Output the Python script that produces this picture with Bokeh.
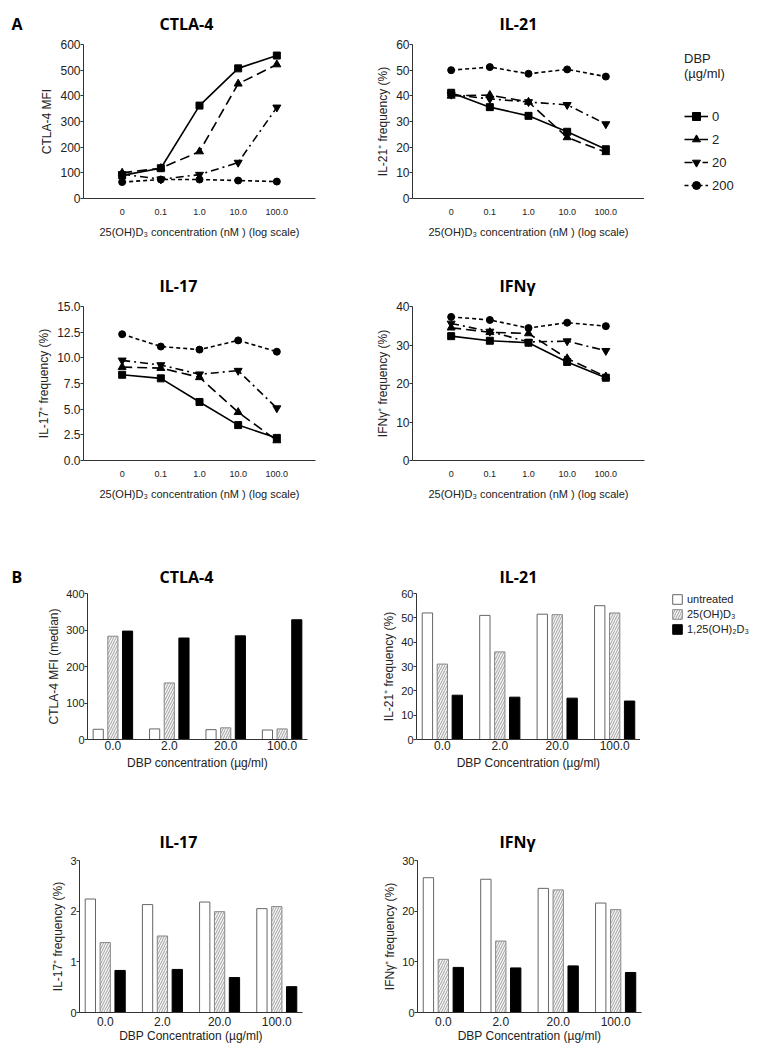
from bokeh.plotting import figure
from bokeh.layouts import column, row
from bokeh.models import (FactorRange, Range1d, FixedTicker, Legend, LegendItem,
                          ColumnDataSource, PrintfTickFormatter, Title)
from bokeh.transform import dodge
from bokeh.embed import file_html
from bokeh.resources import INLINE

# ---------------- Panel A data ----------------
conc = ["0", "0.1", "1.0", "10.0", "100.0"]
dbp_levels = ["0", "2", "20", "200"]

ctla4_a_dbp0 = [90, 118, 362, 507, 557]
ctla4_a_dbp2 = [100, 118, 183, 447, 522]
ctla4_a_dbp20 = [95, 75, 93, 140, 355]
ctla4_a_dbp200 = [64, 74, 74, 70, 66]

il21_a_dbp0 = [41.2, 35.6, 32.2, 26.0, 19.2]
il21_a_dbp2 = [40.0, 40.3, 37.6, 23.8, 18.0]
il21_a_dbp20 = [40.5, 38.8, 37.6, 36.5, 29.0]
il21_a_dbp200 = [50.0, 51.2, 48.6, 50.3, 47.5]

il17_a_dbp0 = [8.35, 8.0, 5.7, 3.45, 2.2]
il17_a_dbp2 = [9.1, 9.0, 8.1, 4.7, 1.95]
il17_a_dbp20 = [9.75, 9.3, 8.4, 8.75, 5.1]
il17_a_dbp200 = [12.3, 11.1, 10.8, 11.7, 10.6]

ifng_a_dbp0 = [32.3, 31.1, 30.6, 25.6, 21.5]
ifng_a_dbp2 = [34.5, 33.3, 33.0, 26.5, 21.8]
ifng_a_dbp20 = [35.6, 33.5, 30.8, 31.0, 28.5]
ifng_a_dbp200 = [37.3, 36.5, 34.4, 35.8, 34.9]

ctla4_a_ticks = [0, 100, 200, 300, 400, 500, 600]
il21_a_ticks = [0, 10, 20, 30, 40, 50, 60]
il17_a_ticks = [0, 2.5, 5.0, 7.5, 10.0, 12.5, 15.0]
ifng_a_ticks = [0, 10, 20, 30, 40]

# ---------------- Panel B data ----------------
dbp_conc = ["0.0", "2.0", "20.0", "100.0"]
treatments = ["untreated", "25(OH)D\u2083", "1,25(OH)\u2082D\u2083"]

ctla4_b_untreated = [28, 29, 27, 26]
ctla4_b_25d = [283, 155, 32, 29]
ctla4_b_125d = [297, 278, 284, 328]

il21_b_untreated = [52.0, 51.0, 51.5, 55.0]
il21_b_25d = [31.0, 36.0, 51.3, 52.0]
il21_b_125d = [18.2, 17.4, 17.0, 15.8]

il17_b_untreated = [2.24, 2.13, 2.18, 2.05]
il17_b_25d = [1.38, 1.51, 1.99, 2.09]
il17_b_125d = [0.83, 0.85, 0.69, 0.51]

ifng_b_untreated = [26.6, 26.3, 24.5, 21.6]
ifng_b_25d = [10.5, 14.1, 24.2, 20.3]
ifng_b_125d = [8.9, 8.8, 9.2, 7.9]

ctla4_b_ticks = [0, 100, 200, 300, 400]
il21_b_ticks = [0, 10, 20, 30, 40, 50, 60]
il17_b_ticks = [0, 1, 2, 3]
ifng_b_ticks = [0, 10, 20, 30]

# ---------------- styling helpers ----------------
AX_FONT = "Liberation Sans"
TITLE_FONT = "Open Sans"
AX_COLOR = "#333333"
TXT_COLOR = "#222222"
SERIES_STYLE = [("square", 7, "solid"), ("triangle", 8, "10 5"),
                ("inverted_triangle", 8, "8 4 2 4"), ("circle", 7, "4 3")]
BAR_STYLE = [dict(fill_color="white", line_color="#666666", line_width=1),
             dict(fill_color="#f4f4f4", line_color="#888888", line_width=1,
                  hatch_pattern="/", hatch_color="#8c8c8c", hatch_scale=5, hatch_weight=0.8),
             dict(fill_color="black", line_color="black", line_width=1)]


def base_fig(w, h, bl, br, bt, bb, x_range=None, ymax=None, axes=True):
    kw = dict(width=w, height=h, output_backend="svg", toolbar_location=None,
              min_border_left=bl, min_border_right=br, min_border_top=bt, min_border_bottom=bb)
    if x_range is not None:
        kw.update(x_range=x_range, y_range=Range1d(0, ymax))
    if not axes:
        kw.update(x_axis_type=None, y_axis_type=None)
    p = figure(**kw)
    for g in p.xgrid + p.ygrid:
        g.grid_line_color = None
    p.outline_line_color = None
    p.background_fill_color = "white"
    p.border_fill_color = "white"
    return p


def set_title(p, text, offset, standoff):
    p.title = Title(text=text, align="left", offset=offset, standoff=standoff,
                    text_font=TITLE_FONT, text_font_size="16px", text_font_style="bold",
                    text_color="black")


def letter_fig(letter, w, h, bt, bb, standoff, offset):
    p = base_fig(w, h, 0, 0, bt, bb, axes=False)
    set_title(p, letter, offset, standoff)
    return p


def style_yaxis(p, label, ticks, fs, label_standoff, fmt=None):
    ax = p.yaxis[0]
    ax.ticker = FixedTicker(ticks=ticks)
    if fmt:
        ax.formatter = PrintfTickFormatter(format=fmt)
    ax.axis_label = label
    ax.axis_label_text_font = AX_FONT
    ax.axis_label_text_font_size = "12px"
    ax.axis_label_text_font_style = "normal"
    ax.axis_label_standoff = label_standoff
    ax.major_label_text_font = AX_FONT
    ax.major_label_text_font_size = fs
    ax.major_label_standoff = 0
    ax.major_tick_out = 3
    ax.major_tick_in = 0
    ax.minor_tick_line_color = None
    ax.axis_line_color = AX_COLOR
    ax.major_tick_line_color = AX_COLOR
    ax.major_label_text_color = TXT_COLOR
    ax.axis_label_text_color = TXT_COLOR


def style_xaxis(p, label, tick_fs, tick_standoff, label_fs, label_standoff):
    ax = p.xaxis[0]
    ax.axis_label = label
    ax.axis_label_text_font = AX_FONT
    ax.axis_label_text_font_size = label_fs
    ax.axis_label_text_font_style = "normal"
    ax.axis_label_standoff = label_standoff
    ax.major_label_text_font = AX_FONT
    ax.major_label_text_font_size = tick_fs
    ax.major_label_standoff = tick_standoff
    ax.major_tick_out = 0
    ax.major_tick_in = 0
    ax.major_tick_line_color = None
    ax.minor_tick_line_color = None
    ax.axis_line_color = AX_COLOR
    ax.major_label_text_color = TXT_COLOR
    ax.axis_label_text_color = TXT_COLOR


def add_series(p, series, visible=True):
    rends = []
    for vals, (mk, sz, dash) in zip(series, SERIES_STYLE):
        ln = p.line(x=conc, y=vals, line_color="black", line_width=1.6, line_dash=dash,
                    visible=visible)
        sc = p.scatter(x=conc, y=vals, marker=mk, size=sz, fill_color="black",
                       line_color="black", visible=visible)
        rends.append([ln, sc])
    return rends


def line_fig(w, h, bl, br, bt, bb, title, toff, tstand, ylabel, ymax, yticks, series, fmt=None):
    xr = FactorRange(factors=conc, range_padding=0.5, range_padding_units="absolute")
    p = base_fig(w, h, bl, br, bt, bb, xr, ymax)
    set_title(p, title, toff, tstand)
    style_yaxis(p, ylabel, yticks, "12px", 3, fmt)
    style_xaxis(p, "25(OH)D\u2083 concentration (nM ) (log scale)", "9px", 10, "11px", 8)
    add_series(p, series)
    return p


def add_bars(p, untreated, d25, d125, visible=True):
    src = ColumnDataSource(dict(dbp=dbp_conc, untreated=untreated, d25=d25, d125=d125))
    rends = []
    for col, off, st in zip(["untreated", "d25", "d125"], [-0.26, 0.0, 0.26], BAR_STYLE):
        rends.append(p.vbar(x=dodge("dbp", off, range=p.x_range), top=col, width=0.18,
                            source=src, visible=visible, **st))
    return rends


def bar_fig(w, h, bl, br, bt, bb, title, toff, tstand, ylabel, xlabel, ymax, yticks,
            untreated, d25, d125, xstand, xlstand):
    xr = FactorRange(factors=dbp_conc, range_padding=-0.05, range_padding_units="absolute")
    p = base_fig(w, h, bl, br, bt, bb, xr, ymax)
    set_title(p, title, toff, tstand)
    style_yaxis(p, ylabel, yticks, "11px", 2)
    style_xaxis(p, xlabel, "12px", xstand, "12px", xlstand)
    add_bars(p, untreated, d25, d125)
    return p


def legend_fig_a(w, h, bl, series):
    # key for the DBP series: same series, hidden, only their legend samples are shown
    p = base_fig(w, h, bl, 0, 44, 57, FactorRange(factors=conc), 60, axes=False)
    rends = add_series(p, series, visible=False)
    items = [LegendItem(label=lvl, renderers=r) for lvl, r in zip(dbp_levels, rends)]
    leg = Legend(items=items, location="top_left", title="DBP\n(\u00b5g/ml)",
                 border_line_color=None, background_fill_alpha=0, padding=4, margin=7,
                 spacing=3, glyph_width=24, glyph_height=20, label_standoff=4,
                 label_text_font=AX_FONT, label_text_font_size="13px", label_text_color=TXT_COLOR,
                 title_text_font=AX_FONT, title_text_font_size="13px", title_text_font_style="normal",
                 title_text_color=TXT_COLOR, title_text_line_height=1.4, title_standoff=25)
    p.add_layout(leg)
    return p


def legend_fig_b(w, h, bl, untreated, d25, d125):
    p = base_fig(w, h, bl, 0, 63, 61, FactorRange(factors=dbp_conc), 60, axes=False)
    rends = add_bars(p, untreated, d25, d125, visible=False)
    items = [LegendItem(label=t, renderers=[r]) for t, r in zip(treatments, rends)]
    leg = Legend(items=items, location="top_left", border_line_color=None, background_fill_alpha=0,
                 padding=1, margin=0, spacing=3, glyph_width=12, glyph_height=12, label_standoff=4,
                 label_text_font=AX_FONT, label_text_font_size="11px", label_text_color=TXT_COLOR)
    p.add_layout(leg)
    return p


# ---------------- Panel A ----------------
il21_a_series = [il21_a_dbp0, il21_a_dbp2, il21_a_dbp20, il21_a_dbp200]
let_a = letter_fig("A", 30, 255, 44, 57, 20, 11)
a1l = line_fig(300, 255, 53, 15, 44, 57, "CTLA-4", 76, 20, "CTLA-4 MFI", 600, ctla4_a_ticks,
               [ctla4_a_dbp0, ctla4_a_dbp2, ctla4_a_dbp20, ctla4_a_dbp200])
a1r = line_fig(314, 255, 82, 0, 44, 57, "IL-21", 87, 20, "IL-21\u207a frequency (%)", 60,
               il21_a_ticks, il21_a_series)
leg_a = legend_fig_a(113, 255, 33, il21_a_series)

a2l = line_fig(330, 275, 83, 15, 51, 70, "IL-17", 76, 20, "IL-17\u207a frequency (%)", 15,
               il17_a_ticks, [il17_a_dbp0, il17_a_dbp2, il17_a_dbp20, il17_a_dbp200], fmt="%.1f")
a2r = line_fig(427, 275, 82, 113, 51, 70, "IFN\u03b3", 87, 20, "IFN\u03b3\u207a frequency (%)", 40,
               ifng_a_ticks, [ifng_a_dbp0, ifng_a_dbp2, ifng_a_dbp20, ifng_a_dbp200])

# ---------------- Panel B ----------------
let_b = letter_fig("B", 30, 270, 63, 61, 12, 11)
b1l = bar_fig(300, 270, 57, 23, 63, 61, "CTLA-4", 72, 12, "CTLA-4 MFI (median)",
              "DBP concentration (\u00b5g/ml)", 400, ctla4_b_ticks,
              ctla4_b_untreated, ctla4_b_25d, ctla4_b_125d, 1, 3)
b1r = bar_fig(310, 270, 86, 0, 63, 61, "IL-21", 83, 12, "IL-21\u207a frequency (%)",
              "DBP Concentration (\u00b5g/ml)", 60, il21_b_ticks,
              il21_b_untreated, il21_b_25d, il21_b_125d, 1, 3)
leg_b = legend_fig_b(117, 270, 31, il21_b_untreated, il21_b_25d, il21_b_125d)

b2l = bar_fig(330, 248, 79, 28, 60, 36, "IL-17", 80, 16, "IL-17\u207a frequency (%)",
              "DBP Concentration (\u00b5g/ml)", 3, il17_b_ticks,
              il17_b_untreated, il17_b_25d, il17_b_125d, 4, 0)
b2r = bar_fig(427, 248, 87, 116, 60, 36, "IFN\u03b3", 82, 16, "IFN\u03b3\u207a frequency (%)",
              "DBP Concentration (\u00b5g/ml)", 30, ifng_b_ticks,
              ifng_b_untreated, ifng_b_25d, ifng_b_125d, 4, 0)

layout = column(row(let_a, a1l, a1r, leg_a, spacing=0), row(a2l, a2r, spacing=0),
                row(let_b, b1l, b1r, leg_b, spacing=0), row(b2l, b2r, spacing=0), spacing=0)

open("out.html", "w").write(file_html(layout, INLINE))
